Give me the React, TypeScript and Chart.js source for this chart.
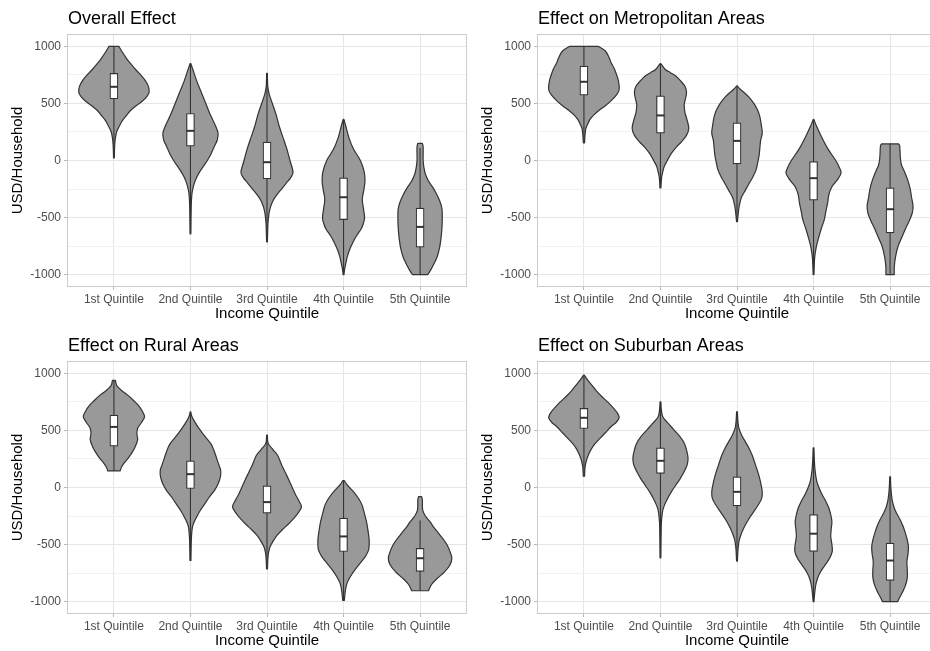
import { useEffect, useRef } from 'react';
import { Chart, registerables } from 'chart.js';

Chart.register(...registerables);

const FONT = '"Liberation Sans", Arial, Helvetica, sans-serif';

const quintiles = ['1st Quintile', '2nd Quintile', '3rd Quintile', '4th Quintile', '5th Quintile'];
const yMajor = [-1000, -500, 0, 500, 1000];
const yMinor = [-750, -250, 250, 750];
const panelTitles = [
  'Overall Effect',
  'Effect on Metropolitan Areas',
  'Effect on Rural Areas',
  'Effect on Suburban Areas',
];
const xAxisTitle = 'Income Quintile';
const yAxisTitle = 'USD/Household';

// Box-plot summaries (USD per household), one entry per income quintile
const overallQ1 = [541, 126, -160, -518, -760];
const overallMedian = [646, 260, -15, -322, -582];
const overallQ3 = [763, 412, 161, -152, -418];
const overallLow = [23, -643, -713, -1000, -1000];
const overallHigh = [1000, 850, 763, 360, 110];

const metroQ1 = [573, 240, -29, -348, -634];
const metroMedian = [690, 395, 172, -155, -427];
const metroQ3 = [827, 567, 330, -9, -240];
const metroLow = [155, -240, -535, -1000, -1000];
const metroHigh = [1000, 850, 654, 360, 145];

const ruralQ1 = [362, -9, -225, -561, -735];
const ruralMedian = [531, 117, -128, -429, -620];
const ruralQ3 = [634, 234, 15, -268, -533];
const ruralLow = [145, -640, -713, -990, -905];
const ruralHigh = [940, 663, 460, 60, -290];

const suburbanQ1 = [517, 123, -161, -560, -815];
const suburbanMedian = [611, 234, -38, -405, -640];
const suburbanQ3 = [693, 348, 94, -238, -487];
const suburbanLow = [98, -616, -645, -1000, -1000];
const suburbanHigh = [985, 751, 664, 347, 94];

// Violin outlines: [value, density half-width in category units], from top to bottom
const overallViolins = [
  [[1000, 0.065], [960, 0.1], [920, 0.14], [880, 0.18], [840, 0.23], [800, 0.28], [750, 0.35], [700, 0.41], [650, 0.45], [600, 0.46], [560, 0.43], [520, 0.37], [480, 0.29], [440, 0.22], [400, 0.17], [350, 0.11], [300, 0.07], [250, 0.035], [200, 0.02], [150, 0.012], [100, 0.008], [23, 0.005]],
  [[850, 0.004], [800, 0.03], [700, 0.08], [600, 0.14], [500, 0.2], [400, 0.26], [300, 0.33], [240, 0.36], [180, 0.35], [120, 0.31], [60, 0.27], [0, 0.22], [-50, 0.17], [-100, 0.12], [-150, 0.08], [-200, 0.05], [-250, 0.03], [-300, 0.018], [-400, 0.01], [-643, 0.005]],
  [[763, 0.005], [650, 0.01], [580, 0.03], [500, 0.07], [400, 0.12], [300, 0.16], [200, 0.21], [100, 0.26], [0, 0.3], [-100, 0.34], [-150, 0.31], [-200, 0.25], [-250, 0.19], [-300, 0.13], [-350, 0.08], [-400, 0.05], [-450, 0.03], [-500, 0.02], [-560, 0.012], [-713, 0.005]],
  [[360, 0.005], [300, 0.03], [200, 0.07], [100, 0.13], [0, 0.22], [-100, 0.27], [-180, 0.28], [-260, 0.265], [-340, 0.245], [-420, 0.26], [-500, 0.275], [-550, 0.26], [-600, 0.23], [-660, 0.17], [-720, 0.12], [-780, 0.08], [-840, 0.05], [-900, 0.03], [-950, 0.015], [-1000, 0.005]],
  [[150, 0.03], [120, 0.04], [50, 0.04], [0, 0.04], [-60, 0.05], [-120, 0.07], [-180, 0.11], [-240, 0.17], [-300, 0.22], [-360, 0.26], [-420, 0.285], [-500, 0.29], [-600, 0.285], [-700, 0.27], [-780, 0.25], [-850, 0.22], [-920, 0.17], [-970, 0.13], [-1000, 0.1]],
];

const metroViolins = [
  [[1000, 0.19], [960, 0.28], [900, 0.33], [850, 0.36], [800, 0.4], [700, 0.45], [620, 0.46], [570, 0.42], [520, 0.35], [480, 0.28], [440, 0.2], [400, 0.13], [360, 0.08], [320, 0.05], [280, 0.025], [230, 0.015], [155, 0.008]],
  [[850, 0.004], [800, 0.06], [770, 0.13], [740, 0.2], [700, 0.26], [650, 0.32], [600, 0.34], [550, 0.33], [490, 0.31], [420, 0.32], [350, 0.35], [280, 0.37], [220, 0.34], [160, 0.27], [120, 0.21], [60, 0.14], [0, 0.09], [-50, 0.05], [-100, 0.03], [-150, 0.015], [-240, 0.006]],
  [[654, 0.004], [620, 0.05], [560, 0.15], [500, 0.22], [440, 0.27], [380, 0.3], [300, 0.32], [240, 0.33], [180, 0.31], [120, 0.3], [50, 0.29], [-20, 0.27], [-80, 0.25], [-140, 0.21], [-200, 0.16], [-260, 0.11], [-320, 0.06], [-380, 0.035], [-440, 0.02], [-535, 0.006]],
  [[360, 0.004], [300, 0.04], [200, 0.11], [100, 0.19], [0, 0.29], [-50, 0.33], [-110, 0.36], [-170, 0.31], [-230, 0.24], [-300, 0.2], [-370, 0.185], [-450, 0.16], [-520, 0.14], [-600, 0.1], [-680, 0.065], [-760, 0.035], [-850, 0.015], [-1000, 0.005]],
  [[145, 0.11], [130, 0.125], [80, 0.13], [20, 0.135], [-40, 0.15], [-100, 0.19], [-170, 0.23], [-240, 0.26], [-320, 0.28], [-400, 0.3], [-460, 0.29], [-530, 0.25], [-600, 0.2], [-680, 0.15], [-760, 0.1], [-850, 0.07], [-930, 0.055], [-1000, 0.055]],
];

const ruralViolins = [
  [[940, 0.02], [920, 0.025], [890, 0.04], [850, 0.1], [810, 0.18], [760, 0.26], [720, 0.32], [670, 0.37], [620, 0.4], [570, 0.36], [520, 0.31], [470, 0.3], [420, 0.31], [360, 0.28], [310, 0.24], [260, 0.19], [220, 0.14], [180, 0.1], [145, 0.08]],
  [[663, 0.004], [620, 0.02], [560, 0.07], [500, 0.13], [440, 0.2], [380, 0.27], [320, 0.31], [260, 0.34], [200, 0.37], [150, 0.395], [90, 0.39], [30, 0.36], [-30, 0.31], [-90, 0.24], [-150, 0.18], [-210, 0.12], [-260, 0.08], [-300, 0.05], [-350, 0.025], [-450, 0.012], [-640, 0.006]],
  [[460, 0.005], [400, 0.01], [370, 0.03], [330, 0.08], [280, 0.14], [200, 0.19], [130, 0.24], [60, 0.29], [0, 0.33], [-60, 0.37], [-120, 0.42], [-170, 0.45], [-220, 0.41], [-270, 0.35], [-320, 0.28], [-370, 0.2], [-420, 0.13], [-470, 0.08], [-520, 0.04], [-570, 0.02], [-620, 0.012], [-713, 0.006]],
  [[60, 0.01], [20, 0.05], [-30, 0.12], [-90, 0.19], [-150, 0.24], [-220, 0.27], [-300, 0.3], [-380, 0.32], [-460, 0.335], [-540, 0.33], [-600, 0.29], [-660, 0.22], [-720, 0.15], [-780, 0.09], [-840, 0.045], [-900, 0.025], [-960, 0.015], [-990, 0.01]],
  [[-80, 0.02], [-110, 0.03], [-150, 0.03], [-200, 0.035], [-250, 0.07], [-300, 0.13], [-350, 0.18], [-400, 0.24], [-450, 0.3], [-500, 0.35], [-560, 0.39], [-620, 0.415], [-680, 0.39], [-740, 0.32], [-800, 0.22], [-850, 0.15], [-905, 0.11]],
];

const suburbanViolins = [
  [[985, 0.005], [950, 0.04], [900, 0.1], [850, 0.16], [800, 0.23], [750, 0.31], [700, 0.38], [650, 0.44], [610, 0.46], [570, 0.42], [530, 0.35], [480, 0.28], [430, 0.21], [380, 0.14], [330, 0.09], [280, 0.055], [230, 0.03], [180, 0.015], [100, 0.008]],
  [[751, 0.005], [680, 0.012], [620, 0.03], [570, 0.09], [510, 0.17], [450, 0.25], [390, 0.31], [330, 0.34], [260, 0.36], [200, 0.35], [140, 0.31], [80, 0.26], [20, 0.2], [-40, 0.14], [-100, 0.09], [-150, 0.055], [-200, 0.03], [-260, 0.018], [-350, 0.01], [-616, 0.005]],
  [[664, 0.005], [580, 0.012], [520, 0.025], [460, 0.06], [400, 0.11], [340, 0.16], [280, 0.2], [200, 0.24], [120, 0.28], [40, 0.31], [-40, 0.33], [-100, 0.32], [-160, 0.27], [-220, 0.21], [-280, 0.15], [-340, 0.1], [-400, 0.06], [-460, 0.03], [-530, 0.015], [-645, 0.005]],
  [[347, 0.005], [250, 0.01], [150, 0.02], [60, 0.04], [0, 0.07], [-60, 0.11], [-120, 0.16], [-180, 0.2], [-240, 0.225], [-300, 0.24], [-370, 0.23], [-430, 0.225], [-500, 0.24], [-560, 0.245], [-620, 0.21], [-680, 0.15], [-740, 0.09], [-800, 0.05], [-870, 0.025], [-1000, 0.005]],
  [[94, 0.005], [0, 0.01], [-100, 0.025], [-160, 0.045], [-220, 0.08], [-280, 0.13], [-340, 0.17], [-400, 0.2], [-460, 0.225], [-520, 0.24], [-580, 0.235], [-650, 0.22], [-720, 0.225], [-790, 0.225], [-860, 0.2], [-920, 0.16], [-970, 0.12], [-1000, 0.1]],
];

const panels = [
  { title: panelTitles[0], violins: overallViolins, q1: overallQ1, median: overallMedian, q3: overallQ3, low: overallLow, high: overallHigh },
  { title: panelTitles[1], violins: metroViolins, q1: metroQ1, median: metroMedian, q3: metroQ3, low: metroLow, high: metroHigh },
  { title: panelTitles[2], violins: ruralViolins, q1: ruralQ1, median: ruralMedian, q3: ruralQ3, low: ruralLow, high: ruralHigh },
  { title: panelTitles[3], violins: suburbanViolins, q1: suburbanQ1, median: suburbanMedian, q3: suburbanQ3, low: suburbanLow, high: suburbanHigh },
];

// Canvas placement and plot-area geometry for the 2x2 grid
const frames = [
  { left: 0, top: 0, width: 467, height: 326, plotLeft: 68, plotTop: 35, plotRight: 466, plotBottom: 286, yTitleX: 18, xTitleY: 314, titleBase: 24 },
  { left: 465, top: 0, width: 473, height: 326, plotLeft: 73, plotTop: 35, plotRight: 471, plotBottom: 286, yTitleX: 23, xTitleY: 314, titleBase: 24 },
  { left: 0, top: 326, width: 467, height: 325, plotLeft: 68, plotTop: 36, plotRight: 466, plotBottom: 287, yTitleX: 18, xTitleY: 315, titleBase: 25 },
  { left: 465, top: 326, width: 473, height: 325, plotLeft: 73, plotTop: 36, plotRight: 471, plotBottom: 287, yTitleX: 23, xTitleY: 315, titleBase: 25 },
];

const INK = '#333333';
const VIOLIN_FILL = '#999999';
const GRID_MAJOR = '#e6e6e6';
const GRID_MINOR = '#f2f2f2';
const TICK_MARK = '#b8b8b8';
const TICK_TEXT = '#4d4d4d';
const BORDER = '#cccccc';
const BOX_HALF = 4;

type Pt = { x: number; y: number };

// Catmull-Rom spline through the points (path already positioned at pts[0])
function traceSmooth(ctx: CanvasRenderingContext2D, pts: Pt[]) {
  const n = pts.length;
  for (let i = 0; i < n - 1; i++) {
    const p0 = pts[Math.max(i - 1, 0)];
    const p1 = pts[i];
    const p2 = pts[i + 1];
    const p3 = pts[Math.min(i + 2, n - 1)];
    const c1 = { x: p1.x + (p2.x - p0.x) / 6, y: p1.y + (p2.y - p0.y) / 6 };
    const c2 = { x: p2.x - (p3.x - p1.x) / 6, y: p2.y - (p3.y - p1.y) / 6 };
    ctx.bezierCurveTo(c1.x, c1.y, c2.x, c2.y, p2.x, p2.y);
  }
}

function makeViolinPlugin(panel: typeof panels[number], frame: typeof frames[number]) {
  return {
    id: 'violins',
    beforeDatasetsDraw(chart: any) {
      const { ctx, scales } = chart;
      const xs = scales.x;
      const ys = scales.y;
      ctx.save();
      panel.violins.forEach((profile: number[][], i: number) => {
        const c = i + 1;
        const right = profile.map(([v, w]) => ({ x: xs.getPixelForValue(c + w), y: ys.getPixelForValue(v) }));
        const left = profile
          .map(([v, w]) => ({ x: xs.getPixelForValue(c - w), y: ys.getPixelForValue(v) }))
          .reverse();
        ctx.beginPath();
        ctx.moveTo(right[0].x, right[0].y);
        traceSmooth(ctx, right);
        ctx.lineTo(left[0].x, left[0].y);
        traceSmooth(ctx, left);
        ctx.closePath();
        ctx.fillStyle = VIOLIN_FILL;
        ctx.fill();
        ctx.lineWidth = 1.2;
        ctx.lineJoin = 'round';
        ctx.strokeStyle = INK;
        ctx.stroke();
      });
      // whiskers
      ctx.lineWidth = 1.1;
      ctx.strokeStyle = INK;
      quintiles.forEach((_, i) => {
        const px = xs.getPixelForValue(i + 1);
        ctx.beginPath();
        ctx.moveTo(px, ys.getPixelForValue(panel.high[i]));
        ctx.lineTo(px, ys.getPixelForValue(panel.low[i]));
        ctx.stroke();
      });
      ctx.restore();
    },
    afterDatasetsDraw(chart: any) {
      const { ctx, scales } = chart;
      ctx.save();
      ctx.lineWidth = 2;
      ctx.strokeStyle = INK;
      quintiles.forEach((_, i) => {
        const px = scales.x.getPixelForValue(i + 1);
        const py = scales.y.getPixelForValue(panel.median[i]);
        ctx.beginPath();
        ctx.moveTo(px - BOX_HALF, py);
        ctx.lineTo(px + BOX_HALF, py);
        ctx.stroke();
      });
      ctx.restore();
    },
    afterDraw(chart: any) {
      const { ctx, chartArea } = chart;
      ctx.save();
      ctx.strokeStyle = BORDER;
      ctx.lineWidth = 1;
      ctx.strokeRect(
        Math.round(chartArea.left) - 0.5,
        Math.round(chartArea.top) - 0.5,
        Math.round(chartArea.right - chartArea.left) + 1,
        Math.round(chartArea.bottom - chartArea.top) + 1
      );
      ctx.fillStyle = '#000000';
      ctx.font = `18px ${FONT}`;
      ctx.textBaseline = 'alphabetic';
      ctx.textAlign = 'left';
      ctx.fillText(panel.title, chartArea.left, frame.titleBase);
      ctx.restore();
    },
  };
}

function Panel({ idx }: { idx: number }) {
  const ref = useRef<HTMLCanvasElement>(null);
  const f = frames[idx];

  useEffect(() => {
    const panel = panels[idx];
    const frame = frames[idx];
    const yTicks = [...yMajor, ...yMinor].sort((a, b) => a - b);
    const chart = new Chart(ref.current as HTMLCanvasElement, {
      type: 'bar',
      data: {
        datasets: [
          {
            data: quintiles.map((_, i) => ({ x: i + 1, y: [panel.q1[i], panel.q3[i]] })) as any,
            backgroundColor: '#ffffff',
            borderColor: INK,
            borderWidth: 1.2,
            borderSkipped: false,
            barThickness: BOX_HALF * 2,
          },
        ],
      },
      options: {
        responsive: false,
        animation: false,
        devicePixelRatio: 1,
        events: [],
        layout: { padding: { top: frame.plotTop, left: 0, right: frame.width - frame.plotRight, bottom: 0 } },
        plugins: { legend: { display: false }, tooltip: { enabled: false }, title: { display: false } },
        scales: {
          x: {
            type: 'linear',
            min: 0.4,
            max: 5.6,
            offset: false,
            afterBuildTicks: (s: any) => {
              s.ticks = quintiles.map((_, i) => ({ value: i + 1 }));
            },
            afterFit: (s: any) => {
              s.height = frame.height - frame.plotBottom;
            },
            ticks: {
              callback: (v: any) => quintiles[Math.round(Number(v)) - 1] ?? '',
              autoSkip: false,
              maxRotation: 0,
              minRotation: 0,
              padding: 2,
              color: TICK_TEXT,
              font: { family: FONT, size: 12 },
            },
            grid: { offset: false, color: GRID_MAJOR, lineWidth: 1, tickLength: 4, tickColor: TICK_MARK },
            border: { display: false },
            title: {
              display: true,
              text: xAxisTitle,
              color: '#000000',
              font: { family: FONT, size: 15 },
              padding: { top: 0, bottom: frame.height - frame.xTitleY - 9 },
            },
          },
          y: {
            type: 'linear',
            min: -1100,
            max: 1100,
            afterBuildTicks: (s: any) => {
              s.ticks = yTicks.map((v) => ({ value: v }));
            },
            afterFit: (s: any) => {
              s.width = frame.plotLeft;
            },
            ticks: {
              callback: (v: any) => (yMajor.includes(Number(v)) ? String(v) : ''),
              autoSkip: false,
              padding: 3,
              color: TICK_TEXT,
              font: { family: FONT, size: 12 },
            },
            grid: {
              color: (c: any) => (yMajor.includes(c.tick?.value) ? GRID_MAJOR : GRID_MINOR),
              lineWidth: 1,
              tickLength: 4,
              tickColor: (c: any) => (yMajor.includes(c.tick?.value) ? TICK_MARK : 'rgba(0,0,0,0)'),
            },
            border: { display: false },
            title: {
              display: true,
              text: yAxisTitle,
              color: '#000000',
              font: { family: FONT, size: 15 },
              padding: { top: frame.yTitleX - 9, bottom: 0 },
            },
          },
        },
      } as any,
      plugins: [makeViolinPlugin(panel, frame)],
    });
    return () => chart.destroy();
  }, [idx]);

  return (
    <canvas
      ref={ref}
      width={f.width}
      height={f.height}
      style={{ position: 'absolute', left: f.left, top: f.top, width: f.width, height: f.height }}
    />
  );
}

export default function App() {
  return (
    <div
      style={{
        position: 'fixed',
        left: 0,
        top: 0,
        width: 930,
        height: 651,
        overflow: 'hidden',
        background: '#ffffff',
      }}
    >
      {panels.map((_, i) => (
        <Panel key={i} idx={i} />
      ))}
    </div>
  );
}
